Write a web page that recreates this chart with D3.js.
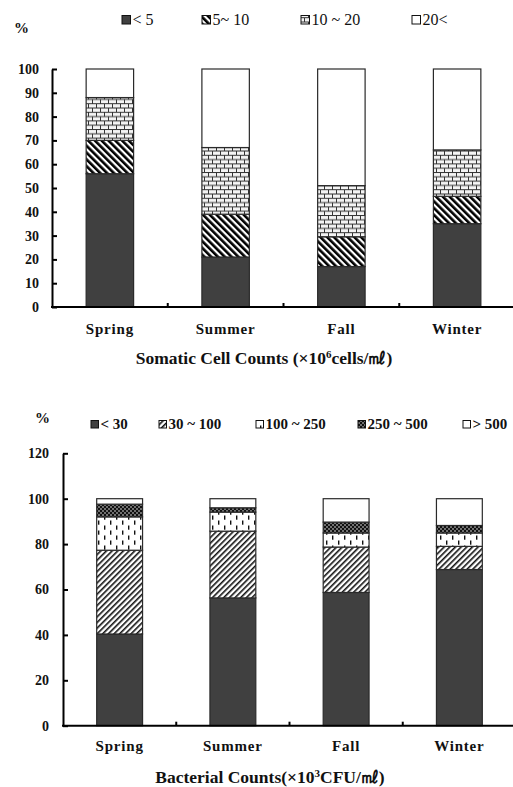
<!DOCTYPE html>
<html lang="en">
<head>
<meta charset="UTF-8">
<script src="https://d3js.org/d3.v7.min.js"></script>
<style>
    body {margin: 0; background: #ffffff}
    svg {display: block}
    text {font-family: "Liberation Serif", "Times New Roman", serif; fill: #111}
</style>
</head>
<body>
<svg id="chart" width="513" height="787"></svg>
<script>
// seasons on the x axis
const seasons = ["Spring", "Summer", "Fall", "Winter"];

// somatic cell counts, % of samples per class
const sccClasses = ["< 5", "5~ 10", "10 ~ 20", "20<"];
const scc_lt5   = [56, 21, 17, 35];
const scc_5_10  = [14, 18, 12.5, 11.5];
const scc_10_20 = [18, 28, 21.5, 19.5];
const scc_gt20  = [12, 33, 49, 34];
const sccTicks = [0, 10, 20, 30, 40, 50, 60, 70, 80, 90, 100];

// bacterial counts, % of samples per class
const bacClasses = ["< 30", "30 ~ 100", "100 ~ 250", "250 ~ 500", "> 500"];
const bac_lt30    = [40.4, 56.3, 58.7, 68.8];
const bac_30_100  = [36.9, 29.4, 20.0, 10.2];
const bac_100_250 = [14.7, 8.4, 6.2, 5.9];
const bac_250_500 = [5.6, 1.9, 4.8, 3.3];
const bac_gt500   = [2.4, 4.0, 10.3, 11.8];
const bacTicks = [0, 20, 40, 60, 80, 100, 120];

const svg = d3.select("#chart");
const defs = svg.append("defs");

// ---- fill patterns ----
function pattern(id, w, h, rot) {
    let p = defs.append("pattern").attr("id", id)
        .attr("patternUnits", "userSpaceOnUse")
        .attr("width", w).attr("height", h);
    if (rot) p.attr("patternTransform", "rotate(" + rot + ")");
    p.append("rect").attr("width", w).attr("height", h).attr("fill", "#fff");
    return p;
}
// thick "\" stripes
pattern("stripeBack", 4.8, 10, -45)
    .append("rect").attr("width", 2.6).attr("height", 10).attr("fill", "#000");
// brick
let brick = pattern("brick", 8, 8.6);
brick.select("rect").attr("fill", "#f4f4f4");
["M0,0.5H8", "M0,4.8H8", "M0.5,0.5V4.8", "M4.5,4.8V8.6"].forEach(function (d) {
    brick.append("path").attr("d", d).attr("stroke", "#333").attr("stroke-width", 1).attr("fill", "none");
});
// thin "/" stripes
pattern("stripeFwd", 4, 10, 45)
    .append("rect").attr("width", 1.6).attr("height", 10).attr("fill", "#111");
// short vertical dashes
let dash = pattern("dash", 12, 10);
dash.append("rect").attr("x", 2).attr("y", 0.5).attr("width", 1.4).attr("height", 4.2).attr("fill", "#111");
dash.append("rect").attr("x", 8).attr("y", 5.5).attr("width", 1.4).attr("height", 4.2).attr("fill", "#111");
// white dots on black
let dots = pattern("dots", 4, 4);
dots.select("rect").attr("fill", "#111");
dots.append("circle").attr("cx", 1).attr("cy", 1).attr("r", 0.75).attr("fill", "#fff");
dots.append("circle").attr("cx", 3).attr("cy", 3).attr("r", 0.75).attr("fill", "#fff");

const dark = "#404040";
const sccFills = [dark, "url(#stripeBack)", "url(#brick)", "#ffffff"];
const bacFills = [dark, "url(#stripeFwd)", "url(#dash)", "url(#dots)", "#ffffff"];

function drawPanel(opt) {
    let rows = seasons.map(function (s, i) {
        let r = {season: s};
        opt.classes.forEach(function (c, k) { r[c] = opt.series[k][i]; });
        return r;
    });
    let stacked = d3.stack().keys(opt.classes)(rows);

    let x = d3.scaleBand().domain(seasons).range(opt.xRange)
        .paddingInner(opt.pad).paddingOuter(opt.pad / 2);
    let y = d3.scaleLinear().domain([0, opt.max]).range(opt.yRange);

    let g = svg.append("g");

    g.selectAll("g.layer").data(stacked).enter().append("g")
        .attr("class", "layer")
        .attr("fill", function (d, k) { return opt.fills[k]; })
        .selectAll("rect").data(function (d) { return d; }).enter().append("rect")
        .attr("x", function (d) { return x(d.data.season); })
        .attr("y", function (d) { return y(d[1]); })
        .attr("width", x.bandwidth())
        .attr("height", function (d) { return y(d[0]) - y(d[1]); })
        .attr("stroke", "#2a2a2a")
        .attr("stroke-width", 1.2);

    // y axis, ticks pointing inward
    let yAxis = g.append("g")
        .attr("transform", "translate(" + opt.xRange[0] + ",0)")
        .call(d3.axisLeft(y).tickValues(opt.ticks).tickSize(-5).tickSizeOuter(0).tickPadding(opt.labelPad));
    yAxis.select(".domain").attr("stroke", "#000").attr("stroke-width", 2);
    yAxis.selectAll(".tick line").attr("stroke", "#000").attr("stroke-width", 2);
    yAxis.selectAll(".tick text")
        .style("font-family", "'Liberation Serif', serif")
        .style("font-weight", "bold").style("font-size", "14px").attr("fill", "#111");

    // x axis line with separators between seasons
    let x0 = opt.yRange[0];
    g.append("line").attr("x1", opt.xRange[0] - 1).attr("x2", opt.xRange[1] + 2)
        .attr("y1", x0).attr("y2", x0).attr("stroke", "#000").attr("stroke-width", 2);
    seasons.forEach(function (s) {
        let xe = x(s) + x.bandwidth() + x.step() * opt.pad / 2;
        g.append("line").attr("x1", xe).attr("x2", xe)
            .attr("y1", x0).attr("y2", x0 - 4).attr("stroke", "#000").attr("stroke-width", 2);
    });
    g.selectAll("text.cat").data(seasons).enter().append("text")
        .attr("class", "cat")
        .attr("x", function (d) { return x(d) + x.bandwidth() / 2; })
        .attr("y", opt.catY)
        .attr("text-anchor", "middle")
        .style("font-weight", "bold").style("font-size", "15px").style("letter-spacing", "0.8px")
        .text(function (d) { return d; });

    // axis title
    let t = g.append("text").attr("x", opt.titleX).attr("y", opt.titleY)
        .attr("text-anchor", "middle").style("font-weight", "bold").style("font-size", "17.5px");
    t.append("tspan").text(opt.title[0]);
    t.append("tspan").attr("dy", -6).style("font-size", "11px").text(opt.title[1]);
    t.append("tspan").attr("dy", 6).text(opt.title[2]);

    // percent sign
    g.append("text").attr("x", opt.pctX).attr("y", opt.pctY)
        .style("font-weight", "bold").style("font-size", "15px").text("%");

    // legend
    opt.classes.forEach(function (c, k) {
        let lx = opt.legendX[k];
        g.append("rect").attr("x", lx).attr("y", opt.legendY - opt.boxSize - 1)
            .attr("width", opt.boxSize).attr("height", opt.boxSize)
            .attr("fill", opt.fills[k]).attr("stroke", "#111").attr("stroke-width", 1);
        g.append("text").attr("x", lx + opt.boxSize + 2).attr("y", opt.legendY)
            .style("font-size", opt.legendFont).style("font-weight", opt.legendWeight)
            .text(c);
    });
}

drawPanel({
    classes: sccClasses,
    series: [scc_lt5, scc_5_10, scc_10_20, scc_gt20],
    fills: sccFills,
    max: 100, ticks: sccTicks,
    xRange: [52, 515], yRange: [307, 69], pad: 0.59, labelPad: 13,
    catY: 334,
    title: ["Somatic Cell Counts (\u00d710", "6", "cells/\u3396)"], titleX: 264, titleY: 364,
    pctX: 14, pctY: 33,
    legendX: [122, 202, 301, 412], legendY: 25, boxSize: 8.5,
    legendFont: "16px", legendWeight: "normal"
});

drawPanel({
    classes: bacClasses,
    series: [bac_lt30, bac_30_100, bac_100_250, bac_250_500, bac_gt500],
    fills: bacFills,
    max: 120, ticks: bacTicks,
    xRange: [63, 516], yRange: [725.7, 453.3], pad: 0.595, labelPad: 14,
    catY: 751,
    title: ["Bacterial Counts(\u00d710", "3", "CFU/\u3396)"], titleX: 270, titleY: 783,
    pctX: 35, pctY: 423,
    legendX: [91, 159, 256, 358, 463], legendY: 429, boxSize: 7.5,
    legendFont: "15px", legendWeight: "bold"
});
</script>
</body>
</html>
